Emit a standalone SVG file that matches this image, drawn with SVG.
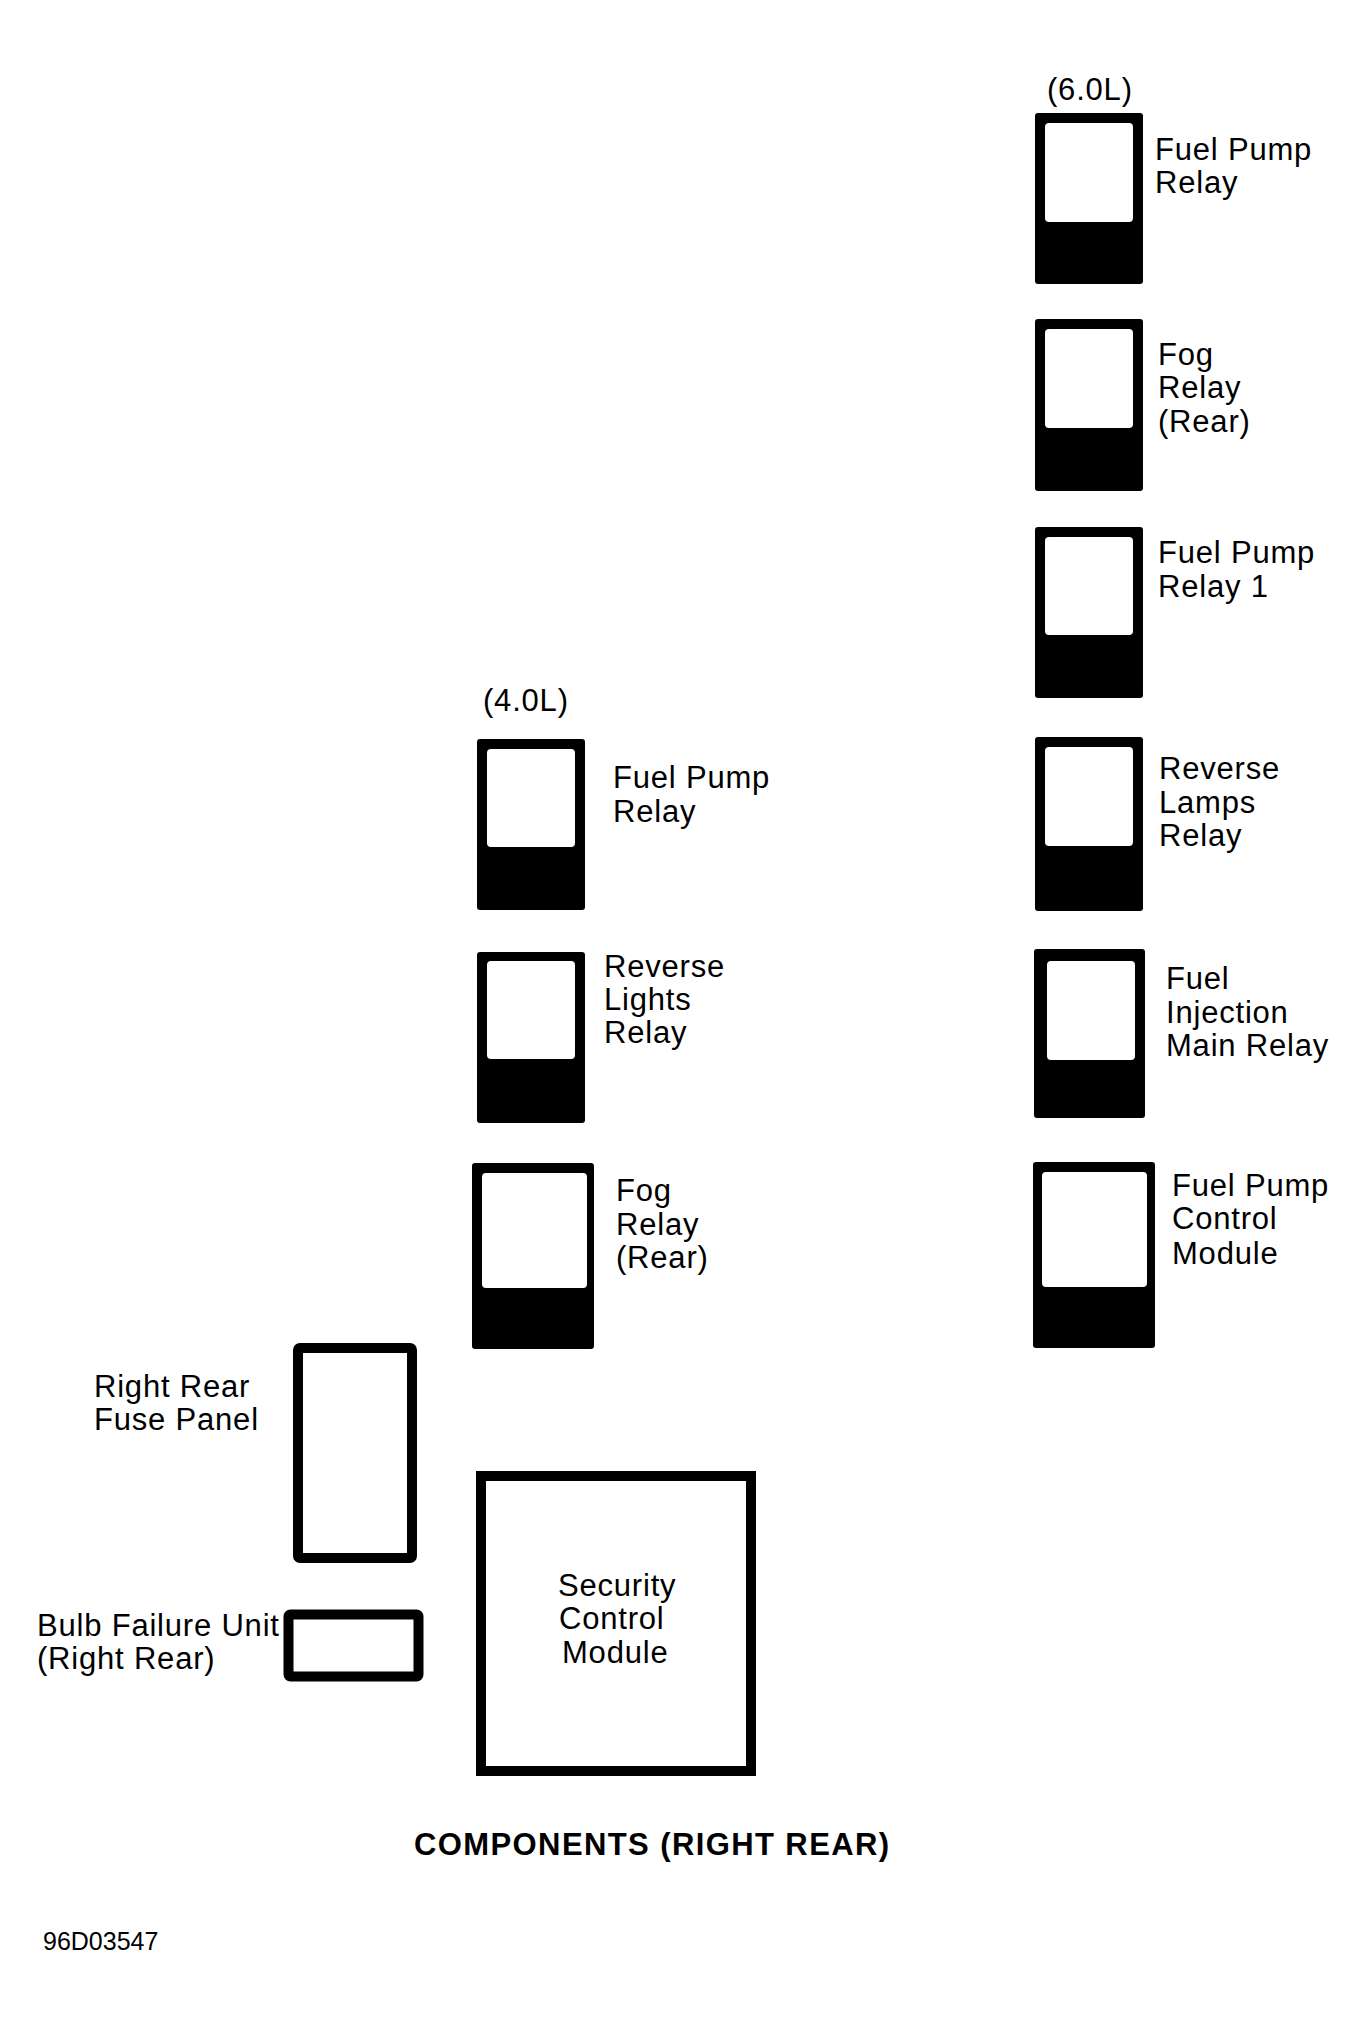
<svg xmlns="http://www.w3.org/2000/svg" width="1367" height="2025" viewBox="0 0 1367 2025">
<style>
text{font-family:"Liberation Sans",Arial,sans-serif;fill:#000}
.lbl{font-size:31px;letter-spacing:0.8px}
.title{font-size:31px;font-weight:bold;letter-spacing:1.4px}
.code{font-size:25px}
.outer{fill:#000}
.inner{fill:#fff}
.box{fill:#fff;stroke:#000;stroke-width:10}
</style>
<rect width="1367" height="2025" fill="#fff"/>

<g id="label-60L"><text class="lbl" x="1047" y="100">(6.0L)</text></g>

<g id="fuel-pump-relay-60">
<rect class="outer" x="1035" y="113" width="108" height="171" rx="3"/>
<rect class="inner" x="1045" y="123" width="88" height="99" rx="4"/>
<text class="lbl" x="1155" y="160">Fuel Pump</text>
<text class="lbl" x="1155" y="193">Relay</text>
</g>

<g id="fog-relay-rear-60">
<rect class="outer" x="1035" y="319" width="108" height="172" rx="3"/>
<rect class="inner" x="1045" y="329" width="88" height="99" rx="4"/>
<text class="lbl" x="1158" y="365">Fog</text>
<text class="lbl" x="1158" y="398">Relay</text>
<text class="lbl" x="1158" y="432">(Rear)</text>
</g>

<g id="fuel-pump-relay-1">
<rect class="outer" x="1035" y="527" width="108" height="171" rx="3"/>
<rect class="inner" x="1045" y="537" width="88" height="98" rx="4"/>
<text class="lbl" x="1158" y="563">Fuel Pump</text>
<text class="lbl" x="1158" y="597">Relay 1</text>
</g>

<g id="reverse-lamps-relay">
<rect class="outer" x="1035" y="737" width="108" height="174" rx="3"/>
<rect class="inner" x="1045" y="747" width="88" height="99" rx="4"/>
<text class="lbl" x="1159" y="779">Reverse</text>
<text class="lbl" x="1159" y="813">Lamps</text>
<text class="lbl" x="1159" y="846">Relay</text>
</g>

<g id="fuel-injection-main-relay">
<rect class="outer" x="1034" y="949" width="111" height="169" rx="3"/>
<rect class="inner" x="1047" y="961" width="88" height="99" rx="4"/>
<text class="lbl" x="1166" y="989">Fuel</text>
<text class="lbl" x="1166" y="1023">Injection</text>
<text class="lbl" x="1166" y="1056">Main Relay</text>
</g>

<g id="fuel-pump-control-module">
<rect class="outer" x="1033" y="1162" width="122" height="186" rx="3"/>
<rect class="inner" x="1042" y="1172" width="105" height="115" rx="4"/>
<text class="lbl" x="1172" y="1196">Fuel Pump</text>
<text class="lbl" x="1172" y="1229">Control</text>
<text class="lbl" x="1172" y="1264">Module</text>
</g>

<g id="label-40L"><text class="lbl" x="483" y="711">(4.0L)</text></g>

<g id="fuel-pump-relay-40">
<rect class="outer" x="477" y="739" width="108" height="171" rx="3"/>
<rect class="inner" x="487" y="749" width="88" height="98" rx="4"/>
<text class="lbl" x="613" y="788">Fuel Pump</text>
<text class="lbl" x="613" y="822">Relay</text>
</g>

<g id="reverse-lights-relay">
<rect class="outer" x="477" y="952" width="108" height="171" rx="3"/>
<rect class="inner" x="487" y="961" width="88" height="98" rx="4"/>
<text class="lbl" x="604" y="977">Reverse</text>
<text class="lbl" x="604" y="1010">Lights</text>
<text class="lbl" x="604" y="1043">Relay</text>
</g>

<g id="fog-relay-rear-40">
<rect class="outer" x="472" y="1163" width="122" height="186" rx="3"/>
<rect class="inner" x="482" y="1173" width="105" height="115" rx="4"/>
<text class="lbl" x="616" y="1201">Fog</text>
<text class="lbl" x="616" y="1235">Relay</text>
<text class="lbl" x="616" y="1268">(Rear)</text>
</g>

<g id="right-rear-fuse-panel">
<rect class="box" x="298" y="1348" width="114" height="210" rx="2"/>
<text class="lbl" x="94" y="1397">Right Rear</text>
<text class="lbl" x="94" y="1430">Fuse Panel</text>
</g>

<g id="bulb-failure-unit">
<rect class="box" x="288.5" y="1614.5" width="130" height="62" rx="2"/>
<text class="lbl" x="37" y="1636">Bulb Failure Unit</text>
<text class="lbl" x="37" y="1669">(Right Rear)</text>
</g>

<g id="security-control-module">
<rect class="box" x="481" y="1476" width="270" height="295"/>
<text class="lbl" x="558" y="1596">Security</text>
<text class="lbl" x="559" y="1629">Control</text>
<text class="lbl" x="562" y="1663">Module</text>
</g>

<g id="connectors"></g>

<g id="caption">
<text class="title" x="414" y="1855">COMPONENTS (RIGHT REAR)</text>
<text class="code" x="43" y="1950">96D03547</text>
</g>
</svg>
